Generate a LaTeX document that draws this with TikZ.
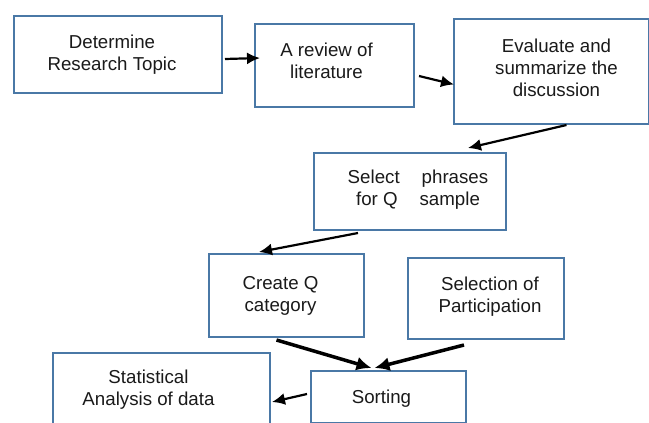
\documentclass[tikz,border=0pt]{standalone}
\usepackage{fontspec}
\setmainfont{Liberation Sans}
\usetikzlibrary{arrows.meta,calc}
\definecolor{boxblue}{HTML}{4A78A6}
\definecolor{txt}{HTML}{1A1A1A}
\begin{document}
\begin{tikzpicture}[x=1pt,y=1pt,
  box/.style={draw=boxblue, line width=2pt, anchor=north west, align=center,
    inner sep=0pt, text=txt, font=\fontsize{18.7}{22}\selectfont},
  arr/.style={line width=2.2pt, -{Latex[length=13pt,width=12pt]}},
  thickarr/.style={line width=3.5pt, -{Latex[length=15pt,width=14pt]}}]
\useasboundingbox (0,0) rectangle (649,-423);
\fill[white] (0,0) rectangle (649,-423);
\node[box, minimum width=208pt, minimum height=77pt] (b1) at (13,-15) {Determine\hspace*{12pt}\\Research Topic\hspace*{12pt}};
\node[box, minimum width=159pt, minimum height=83pt, text depth=9pt] (b2) at (254,-23) {A review of\hspace*{16pt}\\literature\hspace*{16pt}};
\node[box, minimum width=195pt, minimum height=105pt, text depth=7pt] (b3) at (453,-18) {\hspace*{10pt}Evaluate and\\\hspace*{10pt}summarize the\\\hspace*{10pt}discussion};
\node[box, minimum width=192pt, minimum height=77pt, text depth=7pt] (b4) at (313,-152) {\hspace*{16pt}Select\hspace{0.9em} phrases\\\hspace*{16pt}for Q\hspace{0.9em} sample};
\node[box, minimum width=155pt, minimum height=83pt] (b5) at (208,-253) {Create Q\hspace*{12pt}\\category\hspace*{12pt}};
\node[box, minimum width=156pt, minimum height=81pt, text depth=8pt] (b6) at (407,-257) {\hspace*{8pt}Selection of\\\hspace*{8pt}Participation};
\node[box, minimum width=217pt, minimum height=74pt] (b7) at (52,-352) {Statistical\hspace*{26pt}\\Analysis of data\hspace*{26pt}};
\node[box, minimum width=155pt, minimum height=52pt, text depth=0pt] (b8) at (310,-370) {\hspace*{-14pt}Sorting};
\draw[arr] ([xshift=2pt,yshift=-4.5pt]b1.east) -- ([xshift=6pt,yshift=7.5pt]b2.west);
\draw[arr] ([xshift=4pt,yshift=-10.5pt]b2.east) -- ([xshift=1pt,yshift=-13pt]b3.west);
\draw[arr] ([xshift=15pt]b3.south) -- ([xshift=58pt,yshift=4pt]b4.north);
\draw[arr] ([xshift=-52pt,yshift=-2pt]b4.south) -- ([xshift=-27.5pt,yshift=1pt]b5.north);
\draw[thickarr] ([xshift=-10pt,yshift=-2pt]b5.south) -- ([xshift=-17pt,yshift=2pt]b8.north);
\draw[thickarr] ([xshift=-22pt,yshift=-5pt]b6.south) -- ([xshift=-14pt,yshift=2pt]b8.north);
\draw[arr] ([xshift=-3pt,yshift=3pt]b8.west) -- ([xshift=1pt,yshift=-12pt]b7.east);
\end{tikzpicture}
\end{document}
